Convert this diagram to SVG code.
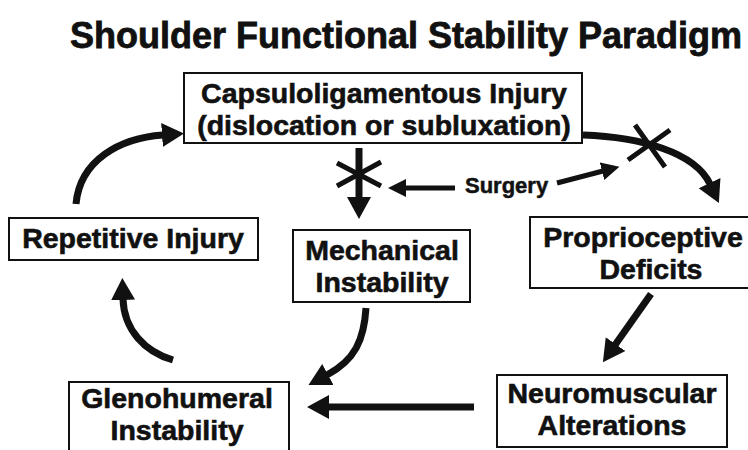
<svg xmlns="http://www.w3.org/2000/svg" width="748" height="450" viewBox="0 0 748 450">
<style>
  .title { font-family: "Liberation Sans", Arial, sans-serif; font-weight: bold; font-size: 36px; fill: #111; stroke: #111; stroke-width: 0.8; }
  .lbl { font-family: "Liberation Sans", Arial, sans-serif; font-weight: bold; font-size: 28.5px; fill: #111; stroke: #111; stroke-width: 0.6; text-anchor: middle; }
  .small { font-family: "Liberation Sans", Arial, sans-serif; font-weight: bold; font-size: 22px; fill: #111; stroke: #111; stroke-width: 0.5; }
  .box { fill: #fff; stroke: #111; stroke-width: 2; }
  .conn { fill: none; stroke: #111; stroke-width: 7; stroke-linecap: butt; }
  .thin { fill: none; stroke: #111; stroke-width: 5; stroke-linecap: butt; }
  .x { fill: none; stroke: #111; stroke-width: 5; stroke-linecap: butt; }
</style>
<defs>
  <marker id="ah" markerUnits="userSpaceOnUse" markerWidth="24" markerHeight="26" viewBox="0 0 24 26" refX="1" refY="13" orient="auto">
    <path d="M0,1 L22,13 L0,25 z" fill="#111"/>
  </marker>
  <marker id="ahs" markerUnits="userSpaceOnUse" markerWidth="20" markerHeight="20" viewBox="0 0 20 20" refX="1" refY="10" orient="auto">
    <path d="M0,1 L18,10 L0,19 z" fill="#111"/>
  </marker>
</defs>

<text class="title" x="406" y="48" text-anchor="middle">Shoulder Functional Stability Paradigm</text>

<g id="connectors">
  <path id="c-rep-cap" class="conn" d="M76,204 C80,160 120,138 163,135" marker-end="url(#ah)"/>
  <path id="c-cap-mech" class="conn" d="M359,148 L359,198" marker-end="url(#ah)"/>
  <path class="x" d="M337,163 L381,186 M381,162 L337,186"/>
  <path id="c-surg-left" class="thin" d="M455,188 L405,188" marker-end="url(#ahs)"/>
  <path id="c-surg-right" class="thin" d="M557,183 L603,171" marker-end="url(#ahs)"/>
  <path id="c-cap-prop" class="conn" d="M583,135 C640,137 695,152 710,184" marker-end="url(#ah)"/>
  <path class="x" d="M635,125 L665,167 M670,130 L628,160"/>
  <path id="c-prop-neuro" class="conn" d="M651,294 L615,345" marker-end="url(#ah)"/>
  <path id="c-mech-gleno" class="conn" d="M366,308 C364,340 355,360 327,375" marker-end="url(#ah)"/>
  <path id="c-neuro-gleno" class="conn" d="M474,407 L328,407" marker-end="url(#ah)"/>
  <path id="c-gleno-rep" class="conn" d="M173,360 C145,352 124,330 123,299" marker-end="url(#ah)"/>
</g>

<g id="surgery">
  <text class="small" x="465" y="193">Surgery</text>
</g>

<g id="capsulo">
  <rect class="box" x="184" y="73" width="398" height="70"/>
  <text class="lbl" x="384" y="103">Capsuloligamentous Injury</text>
  <text class="lbl" x="384" y="135">(dislocation or subluxation)</text>
</g>

<g id="repetitive">
  <rect class="box" x="9" y="218" width="249" height="42"/>
  <text class="lbl" x="133" y="248">Repetitive Injury</text>
</g>

<g id="mechanical">
  <rect class="box" x="293" y="230" width="177" height="72"/>
  <text class="lbl" x="382" y="260">Mechanical</text>
  <text class="lbl" x="382" y="292">Instability</text>
</g>

<g id="proprioceptive">
  <rect class="box" x="530" y="217" width="225" height="71"/>
  <text class="lbl" x="643" y="247">Proprioceptive</text>
  <text class="lbl" x="651" y="279">Deficits</text>
</g>

<g id="neuromuscular">
  <rect class="box" x="497" y="375" width="230" height="72"/>
  <text class="lbl" x="612" y="403">Neuromuscular</text>
  <text class="lbl" x="612" y="435">Alterations</text>
</g>

<g id="glenohumeral">
  <rect class="box" x="69" y="382" width="220" height="75"/>
  <text class="lbl" x="177" y="408">Glenohumeral</text>
  <text class="lbl" x="177" y="440">Instability</text>
</g>
</svg>
